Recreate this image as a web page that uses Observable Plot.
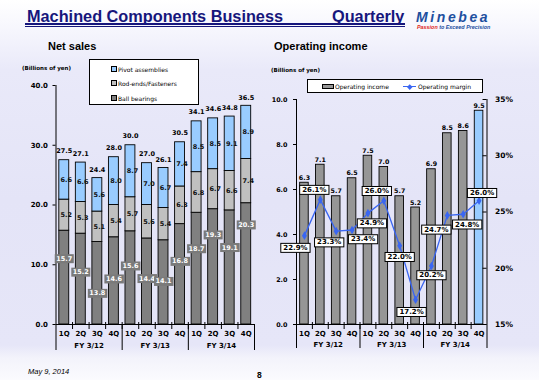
<!DOCTYPE html>
<html><head><meta charset="utf-8">
<script src="https://cdn.jsdelivr.net/npm/d3@7"></script>
<script src="https://cdn.jsdelivr.net/npm/@observablehq/plot@0.6"></script>
<style>
html,body{margin:0;padding:0}
body{width:539px;height:380px;overflow:hidden;position:relative;color:#000;
 background:linear-gradient(to bottom,#ffffff 0px,#f6f6fd 30px,#e9e9f9 70px,#e4e4f7 200px,#e6e6f8 345px,#f3f3fb 358px,#fbfbfe 380px);
 font-family:"DejaVu Sans",sans-serif}
.a{position:absolute;white-space:nowrap;line-height:1}
.chart{position:absolute}
.sw{position:absolute;border:1px solid #000;box-sizing:border-box}
</style></head><body>
<div class="a" style="left:27px;top:7px;font:bold 16.3px 'Liberation Sans',Arial,sans-serif;color:#16167c">Machined Components Business</div>
<div class="a" style="left:332px;top:7px;font:bold 16.3px 'Liberation Sans',Arial,sans-serif;color:#16167c">Quarterly</div>
<div class="a" style="left:25px;top:23px;width:380px;height:1px;border-top:2px solid #16167c;border-bottom:1px solid #16167c"></div>
<div class="a" style="left:416px;top:9px;font:italic bold 14px 'Liberation Sans',Arial,sans-serif;letter-spacing:2.6px;color:#1d4f9f">Minebea</div>
<div class="a" style="left:417px;top:24.2px;font:italic bold 5.4px 'Liberation Sans',Arial,sans-serif;color:#1d4f9f"><span style="color:#e0261c">Passion</span> to Exceed Precision</div>

<div class="a" style="left:48px;top:40px;font:bold 11px 'Liberation Sans',Arial,sans-serif">Net sales</div>
<div class="a" style="left:274px;top:40px;font:bold 11px 'Liberation Sans',Arial,sans-serif">Operating income</div>
<div class="a" style="left:22px;top:65.3px;font:bold 5.5px 'DejaVu Sans',sans-serif">(Billions of yen)</div>
<div class="a" style="left:271px;top:67.3px;font:bold 5.5px 'DejaVu Sans',sans-serif">(Billions of yen)</div>

<div id="left" class="chart" style="left:0;top:70px"></div>
<div id="right" class="chart" style="left:265px;top:70px"></div>

<div id="legendL" class="a" style="left:89px;top:59px;width:110px;height:46px;border:1px solid #000;background:#fff;box-sizing:border-box"></div>
<div id="legendR" class="a" style="left:307px;top:79px;width:176px;height:14px;border:1px solid #000;background:#fff;box-sizing:border-box"></div>

<div class="a" style="left:28px;top:367px;font:italic 7.5px 'Liberation Sans',Arial,sans-serif">May 9, 2014</div>
<div class="a" style="left:257px;top:370px;font:bold 8.5px 'Liberation Sans',Arial,sans-serif">8</div>

<script>
// ---------- data ----------
const quarters = ["1Q","2Q","3Q","4Q","1Q","2Q","3Q","4Q","1Q","2Q","3Q","4Q"];
const fiscalYears = ["FY 3/12","FY 3/13","FY 3/14"];
const ballBearings = [15.7,15.2,13.8,14.6,15.6,14.4,14.1,16.8,18.7,19.3,19.1,20.3];
const rodEnds = [5.2,5.3,5.1,5.4,5.7,5.6,5.4,6.3,6.8,6.7,6.6,7.4];
const pivotAssemblies = [6.6,6.6,5.6,8.0,8.7,7.0,6.7,7.4,8.5,8.5,9.1,8.9];
const netSalesTotals = [27.5,27.1,24.4,28.0,30.0,27.0,26.1,30.5,34.1,34.6,34.8,36.5];
const operatingIncome = [6.3,7.1,5.7,6.5,7.5,7.0,5.7,5.2,6.9,8.5,8.6,9.5];
const operatingMargin = [22.9,26.1,23.3,23.4,24.9,26.0,22.0,17.2,20.2,24.7,24.8,26.0];
const salesTicks = [0,10,20,30,40];
const incomeTicks = [0,2,4,6,8,10];
const marginTicks = [15,20,25,30,35];
const seriesNames = ["Ball bearings","Rod-ends/Fasteners","Pivot assemblies"];

// ---------- derived tables ----------
const idx = d3.range(quarters.length);
const seriesValues = [ballBearings, rodEnds, pivotAssemblies];
const seriesColors = ["#808080","#c0c0c0","#99ccff"];
const segments = [];
idx.forEach(i => {
  let base = 0;
  seriesNames.forEach((name, s) => {
    const v = seriesValues[s][i];
    segments.push({i, name, v, y1: base, y2: base + v});
    base += v;
  });
});

const baseStyle = {background: "transparent", overflow: "visible", fontFamily: "'DejaVu Sans', sans-serif", fontWeight: "bold", fontSize: "7px", color: "#000"};

// label placement (pixel offsets, purely presentational)
const ballDy = [-19,-7,10,-2,-12,-3,-1,-13,-20,-32,-20,-39];
const marginOffsets = [[-9,12],[-6,-10],[-7,11],[11,9],[4,10],[-7,-10],[0,11],[-4,12],[0,9],[-11,14],[4,10],[3,-8]];
const BALL_TEXT = "#fefefe", MARGIN_TEXT = "#010101";

// ---------- left chart ----------
const leftPlot = Plot.plot({
  width: 265, height: 290, marginLeft: 55.5, marginRight: 11, marginTop: 15, marginBottom: 36,
  style: baseStyle,
  x: {type: "linear", domain: [0, 12], axis: null},
  y: {domain: [0, 40], axis: null},
  color: {domain: seriesNames, range: seriesColors},
  marks: [
    Plot.rectY(segments, {x1: d => d.i + 0.2, x2: d => d.i + 0.8, y1: "y1", y2: "y2", fill: "name", stroke: "#000", strokeWidth: 0.9}),
    Plot.ruleY([0], {stroke: "#000"}),
    Plot.ruleX([0], {stroke: "#000", insetBottom: -26}),
    Plot.ruleX([4, 8, 12], {stroke: "#000", insetTop: 239, insetBottom: -26}),
    Plot.ruleX(d3.range(1, 12), {stroke: "#000", insetTop: 237, insetBottom: -5}),
    Plot.axisY({ticks: salesTicks, tickFormat: d3.format(".1f"), tickSize: 3, tickPadding: 5, fontSize: 7}),
    Plot.text(idx, {x: i => i + 0.5, y: () => 0, text: i => quarters[i], dy: 9, fontSize: 7}),
    Plot.text(fiscalYears, {x: (d, i) => i * 4 + 2, y: () => 0, text: d => d, dy: 21, fontSize: 7}),
    Plot.text(idx, {x: i => i + 0.5, y: i => netSalesTotals[i], text: i => netSalesTotals[i].toFixed(1), dy: -9, fontSize: 6.5}),
    Plot.text(segments.filter(d => d.name !== "Ball bearings"), {x: d => d.i + 0.5, y: d => (d.y1 + d.y2) / 2, text: d => d.v.toFixed(1), dx: 2, fontSize: 6.5, fill: "#111"}),
    ...idx.map(k => Plot.text([k], {x: i => i + 0.5, y: i => ballBearings[i] / 2, text: i => ballBearings[i].toFixed(1), dy: ballDy[k], fill: BALL_TEXT, fontSize: 6.5, ariaDescription: "bb-label"}))
  ]
});

// ---------- right chart ----------
const marginToY = m => (m - 15) / 2; // 15%..35% onto 0..10 billion yen
const rightPlot = Plot.plot({
  width: 274, height: 290, marginLeft: 31, marginRight: 52.5, marginTop: 29, marginBottom: 36,
  style: baseStyle,
  x: {type: "linear", domain: [0, 12], axis: null},
  y: {domain: [0, 10], axis: null},
  color: {type: "identity"},
  marks: [
    Plot.rectY(idx, {x1: i => i + 0.23, x2: i => i + 0.77, y1: () => 0, y2: i => operatingIncome[i], fill: i => i === idx.length - 1 ? "#99ccff" : "#969696", stroke: "#000", strokeWidth: 0.9}),
    Plot.ruleY([0], {stroke: "#000"}),
    Plot.ruleX([0, 12], {stroke: "#000", insetBottom: -24}),
    Plot.ruleX([4, 8], {stroke: "#000", insetTop: 225, insetBottom: -24}),
    Plot.ruleX(d3.range(1, 12), {stroke: "#000", insetTop: 223, insetBottom: -5}),
    Plot.ruleY(marginTicks.map(marginToY), {x1: () => 11.75, x2: () => 12, stroke: "#000"}),
    Plot.axisY({ticks: incomeTicks, tickFormat: d3.format(".1f"), tickSize: 3, tickPadding: 6, fontSize: 6.4}),
    Plot.axisY({anchor: "right", ticks: marginTicks.map(marginToY), tickFormat: d => (d * 2 + 15) + "%", tickSize: 0, tickPadding: 8, fontSize: 7.5}),
    Plot.text(idx, {x: i => i + 0.5, y: () => 0, text: i => quarters[i], dy: 9, fontSize: 7}),
    Plot.text(fiscalYears, {x: (d, i) => i * 4 + 2, y: () => 0, text: d => d, dy: 20, fontSize: 7}),
    Plot.text(idx, {x: i => i + 0.5, y: i => operatingIncome[i], text: i => operatingIncome[i].toFixed(1), dy: -5, fontSize: 6.3}),
    Plot.line(idx, {x: i => i + 0.5, y: i => marginToY(operatingMargin[i]), stroke: "#3a66f2", strokeWidth: 1.3}),
    Plot.dot(idx, {x: i => i + 0.5, y: i => marginToY(operatingMargin[i]), symbol: "diamond", r: 2.6, fill: "#3a66f2"}),
    ...idx.map(k => Plot.text([k], {x: i => i + 0.5, y: i => marginToY(operatingMargin[i]), text: i => operatingMargin[i].toFixed(1) + "%", dx: marginOffsets[k][0], dy: marginOffsets[k][1], fill: MARGIN_TEXT, fontSize: 7, ariaDescription: "margin-label"}))
  ]
});

document.getElementById("left").append(leftPlot);
document.getElementById("right").append(rightPlot);

function addBoxes(svg, label, textFill, fill, stroke, padX, padY) {
  const nodes = new Set([
    ...svg.querySelectorAll(`g[aria-description="${label}"] text`),
    ...svg.querySelectorAll(`g[fill="${textFill}"] text`),
    ...svg.querySelectorAll(`text[fill="${textFill}"]`)
  ]);
  nodes.forEach(t => {
    const b = t.getBBox();
    const r = document.createElementNS("http://www.w3.org/2000/svg", "rect");
    r.setAttribute("x", b.x - padX);
    r.setAttribute("y", b.y - padY);
    r.setAttribute("width", b.width + 2 * padX);
    r.setAttribute("height", b.height + 2 * padY);
    r.setAttribute("fill", fill);
    r.setAttribute("stroke", stroke);
    r.setAttribute("stroke-width", 1);
    if (t.getAttribute("transform")) r.setAttribute("transform", t.getAttribute("transform"));
    t.parentNode.insertBefore(r, t);
  });
}
addBoxes(leftPlot, "bb-label", BALL_TEXT, "#7a7a7a", "none", 1.5, 0.5);
addBoxes(rightPlot, "margin-label", MARGIN_TEXT, "#fff", "#000", 2.5, 0.5);

// ---------- legends ----------
const legL = document.getElementById("legendL");
[["Pivot assemblies", "#99ccff", 9], ["Rod-ends/Fasteners", "#c0c0c0", 23], ["Ball bearings", "#808080", 38]].forEach(([name, color, cy]) => {
  const sw = document.createElement("div");
  sw.className = "sw";
  sw.style.cssText = `left:21px;top:${cy - 3}px;width:6px;height:6px;background:${color}`;
  legL.append(sw);
  const tx = document.createElement("div");
  tx.className = "a";
  tx.style.cssText = `left:28px;top:${cy - 3}px;font:6px 'DejaVu Sans',sans-serif`;
  tx.textContent = name;
  legL.append(tx);
});
const legR = document.getElementById("legendR");
legR.innerHTML = `
<div class="sw" style="left:14px;top:4px;width:12px;height:5px;background:#969696"></div>
<div class="a" style="left:27px;top:3px;font:6px 'DejaVu Sans',sans-serif">Operating income</div>
<div class="a" style="left:95px;top:6px;width:13px;height:1.3px;background:#3a66f2"></div>
<div class="a" style="left:99.5px;top:4.5px;width:3.5px;height:3.5px;background:#3a66f2;transform:rotate(45deg)"></div>
<div class="a" style="left:110px;top:3px;font:6px 'DejaVu Sans',sans-serif">Operating margin</div>`;
</script>
</body></html>
